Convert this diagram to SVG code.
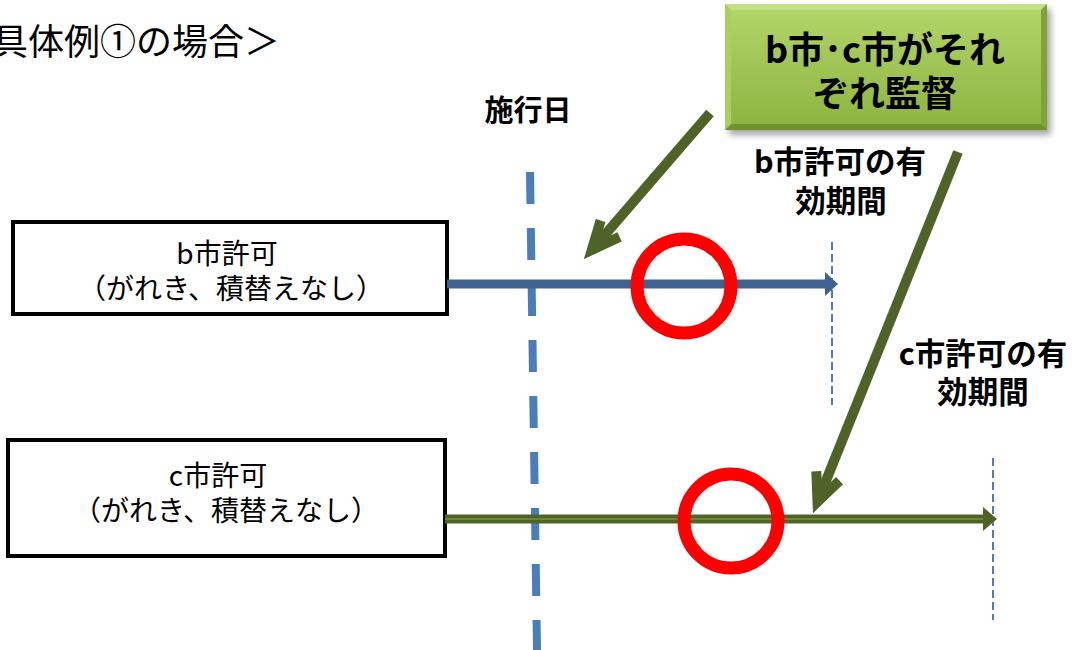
<svg xmlns="http://www.w3.org/2000/svg" width="1077" height="650" viewBox="0 0 1077 650">
<style>
text{font-family:"Noto Sans CJK JP","Noto Sans",sans-serif;fill:#000}
.reg{font-size:28px;text-anchor:middle}
.lbl{font-size:30.5px;font-weight:bold;text-anchor:middle}
.box{fill:#fff;stroke:#000;stroke-width:4}
.ring{fill:none;stroke:#ff0000;stroke-width:13}
.olive{stroke:#4f6228;stroke-width:10;fill:none}
.thin{stroke:#4a7ebb;stroke-width:2;stroke-dasharray:8 4;fill:none}
</style>
<defs>
<linearGradient id="gg" x1="0" y1="0" x2="0" y2="1">
<stop offset="0" stop-color="#b3d66a"/>
<stop offset="1" stop-color="#8cb33f"/>
</linearGradient>
<filter id="sh" x="-10%" y="-10%" width="120%" height="130%">
<feGaussianBlur stdDeviation="3"/>
</filter>
<marker id="vhead" markerUnits="userSpaceOnUse" markerWidth="50" markerHeight="50" viewBox="-40 -25 50 50" refX="0" refY="0" orient="auto" overflow="visible">
<path d="M-28,-12.5 L0,0 L-28,12.5" fill="none" stroke="#4f6228" stroke-width="10" stroke-linejoin="miter"/>
</marker>
</defs>

<text x="-8" y="55" style="font-size:36px">具体例①の場合＞</text>

<g id="supervise">
<rect x="729" y="9" width="322" height="126" fill="#000" opacity="0.35" filter="url(#sh)"/>
<rect x="725" y="4" width="322" height="126" fill="url(#gg)"/>
<polygon points="725,4 1047,4 1041,10 731,10" fill="#c3e183"/>
<polygon points="725,130 1047,130 1041,124 731,124" fill="#6f9130"/>
<polygon points="725,4 731,10 731,124 725,130" fill="#a9cf5c"/>
<polygon points="1047,4 1041,10 1041,124 1047,130" fill="#7fa337"/>
<text x="885" y="63" style="font-size:36px;font-weight:bold;text-anchor:middle">b市･c市がそれ</text>
<text x="885" y="107" style="font-size:36px;font-weight:bold;text-anchor:middle">ぞれ監督</text>
</g>

<g id="sekou">
<text x="528" y="121" style="font-size:29px;font-weight:bold;text-anchor:middle">施行日</text>
</g>

<g id="b-period-label">
<text class="lbl" x="840" y="173">b市許可の有</text>
<text class="lbl" x="841" y="212">効期間</text>
</g>

<g id="c-period-label">
<text class="lbl" x="983" y="365">c市許可の有</text>
<text class="lbl" x="983" y="403">効期間</text>
</g>

<g id="b-permit">
<rect class="box" x="13" y="222" width="434" height="92"/>
<text class="reg" x="227" y="264">b市許可</text>
<text class="reg" x="231" y="299">（がれき、積替えなし）</text>
</g>

<g id="c-permit">
<rect class="box" x="8" y="440" width="437" height="116"/>
<text class="reg" x="218" y="486">c市許可</text>
<text class="reg" x="226" y="521">（がれき、積替えなし）</text>
</g>

<g id="connectors">
<line x1="530" y1="172" x2="537" y2="650" stroke="#4a7ebb" stroke-width="8" stroke-dasharray="32 24"/>
<line class="thin" x1="832" y1="242" x2="832" y2="405"/>
<line class="thin" x1="993" y1="458" x2="993" y2="620"/>
<line x1="447" y1="284" x2="827" y2="284" stroke="#3f628f" stroke-width="9"/>
<polygon points="825,272 838,284 825,296" fill="#3f628f"/>
<line x1="445" y1="519" x2="985" y2="519" stroke="#4f6228" stroke-width="9"/>
<line x1="445" y1="519" x2="985" y2="519" stroke="#76943f" stroke-width="1.5"/>
<polygon points="983,507 997,519 983,531" fill="#4f6228"/>
<line class="olive" x1="710" y1="113" x2="591.8" y2="249.9" marker-end="url(#vhead)"/>
<line class="olive" x1="958" y1="152" x2="817.5" y2="501.9" marker-end="url(#vhead)"/>
</g>

<g id="circles">
<circle class="ring" cx="684" cy="286" r="47"/>
<circle class="ring" cx="731" cy="521" r="47"/>
</g>
</svg>
